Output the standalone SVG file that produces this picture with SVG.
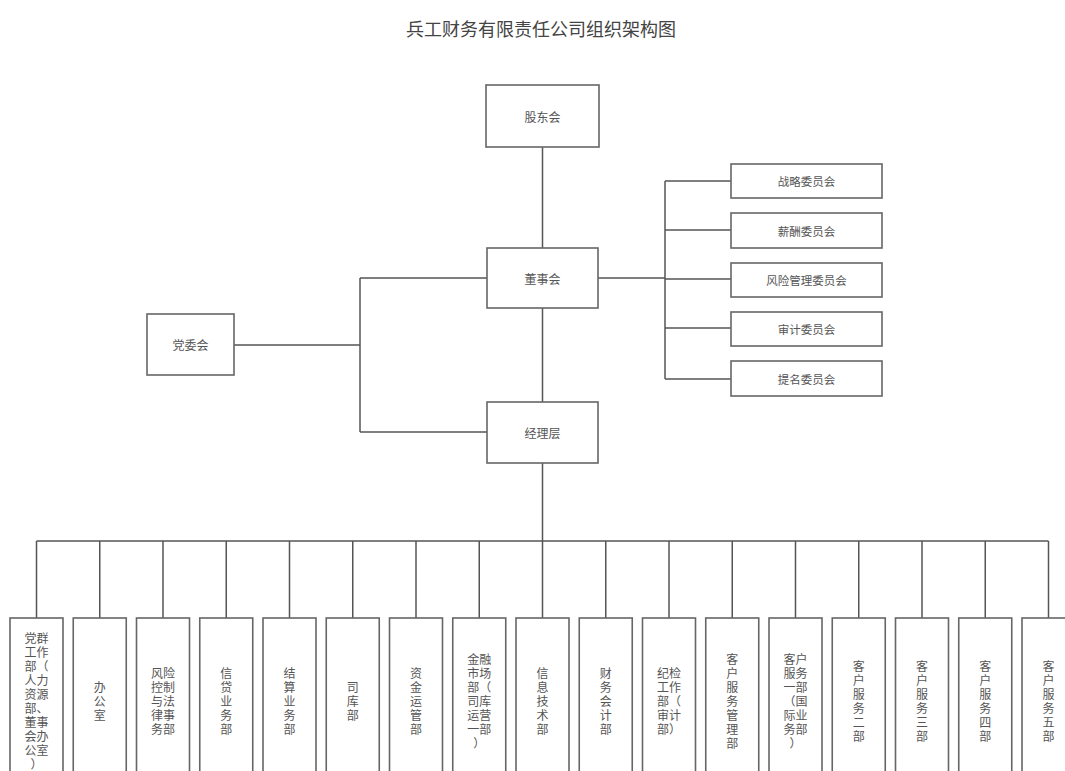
<svg xmlns="http://www.w3.org/2000/svg" width="1065" height="771" viewBox="0 0 1065 771">
<style>
text{font-family:"Noto Sans CJK SC","Noto Sans",sans-serif;fill:#555;text-anchor:middle;dominant-baseline:central}
.title{font-size:18px;fill:#444}
.n rect{fill:#fff;stroke:#666;stroke-width:1.6}
.n text{font-size:12px}
.c text{font-size:11.5px}
.b text{font-size:12px}
#connectors path{fill:none;stroke:#555;stroke-width:1.5}
</style>
<rect width="1065" height="771" fill="#fff"/>
<text class="title" x="541" y="28">兵工财务有限责任公司组织架构图</text>
<g id="connectors">
<path d="M542.5 147V248M542.5 308V402M542.5 463V541"/>
<path d="M598 278H665M665 181V379M665 181H731M665 230H731M665 279H731M665 328H731M665 379H731"/>
<path d="M234 345H360M360 278V432M360 278H487M360 432H487"/>
<path d="M36.5 541H1048.5"/>
<path d="M36.5 541V618M99.75 541V618M163 541V618M226.25 541V618M289.5 541V618M352.75 541V618M416 541V618M479.25 541V618M542.5 541V618M605.75 541V618M669 541V618M732.25 541V618M795.5 541V618M858.75 541V618M922 541V618M985.25 541V618M1048.5 541V618"/>
</g>
<g id="gudonghui" class="n"><rect x="486" y="85" width="113" height="62"/><text x="542.5" y="116">股东会</text></g>
<g id="dongshihui" class="n"><rect x="487" y="248" width="111" height="60"/><text x="542.5" y="278">董事会</text></g>
<g id="jinglieceng" class="n"><rect x="487" y="402" width="111" height="61"/><text x="542.5" y="432.5">经理层</text></g>
<g id="dangweihui" class="n"><rect x="147" y="314" width="87" height="61"/><text x="190.5" y="344.5">党委会</text></g>
<g id="zhanlue" class="n c"><rect x="731" y="164" width="151" height="34"/><text x="806.5" y="181">战略委员会</text></g>
<g id="xinchou" class="n c"><rect x="731" y="213" width="151" height="35"/><text x="806.5" y="230.5">薪酬委员会</text></g>
<g id="fengxian" class="n c"><rect x="731" y="263" width="151" height="34"/><text x="806.5" y="280">风险管理委员会</text></g>
<g id="shenji" class="n c"><rect x="731" y="312" width="151" height="34"/><text x="806.5" y="329">审计委员会</text></g>
<g id="timing" class="n c"><rect x="731" y="361" width="151" height="35"/><text x="806.5" y="378.5">提名委员会</text></g>
<g id="d1" class="n b"><rect x="10" y="618" width="53" height="170"/><text x="36.5" y="637"><tspan x="36.5" y="637">党群</tspan><tspan x="36.5" y="651">工作</tspan><tspan x="36.5" y="665">部（</tspan><tspan x="36.5" y="679">人力</tspan><tspan x="36.5" y="693">资源</tspan><tspan x="36.5" y="707">部、</tspan><tspan x="36.5" y="721">董事</tspan><tspan x="36.5" y="735">会办</tspan><tspan x="36.5" y="749">公室</tspan><tspan x="36.5" y="763">）</tspan></text></g>
<g id="d2" class="n b"><rect x="73.25" y="618" width="53" height="170"/><text><tspan x="99.75" y="686">办</tspan><tspan x="99.75" y="700">公</tspan><tspan x="99.75" y="714">室</tspan></text></g>
<g id="d3" class="n b"><rect x="136.5" y="618" width="53" height="170"/><text><tspan x="163" y="672">风险</tspan><tspan x="163" y="686">控制</tspan><tspan x="163" y="700">与法</tspan><tspan x="163" y="714">律事</tspan><tspan x="163" y="728">务部</tspan></text></g>
<g id="d4" class="n b"><rect x="199.75" y="618" width="53" height="170"/><text><tspan x="226.25" y="672">信</tspan><tspan x="226.25" y="686">贷</tspan><tspan x="226.25" y="700">业</tspan><tspan x="226.25" y="714">务</tspan><tspan x="226.25" y="728">部</tspan></text></g>
<g id="d5" class="n b"><rect x="263" y="618" width="53" height="170"/><text><tspan x="289.5" y="672">结</tspan><tspan x="289.5" y="686">算</tspan><tspan x="289.5" y="700">业</tspan><tspan x="289.5" y="714">务</tspan><tspan x="289.5" y="728">部</tspan></text></g>
<g id="d6" class="n b"><rect x="326.25" y="618" width="53" height="170"/><text><tspan x="352.75" y="686">司</tspan><tspan x="352.75" y="700">库</tspan><tspan x="352.75" y="714">部</tspan></text></g>
<g id="d7" class="n b"><rect x="389.5" y="618" width="53" height="170"/><text><tspan x="416" y="672">资</tspan><tspan x="416" y="686">金</tspan><tspan x="416" y="700">运</tspan><tspan x="416" y="714">管</tspan><tspan x="416" y="728">部</tspan></text></g>
<g id="d8" class="n b"><rect x="452.75" y="618" width="53" height="170"/><text><tspan x="479.25" y="658">金融</tspan><tspan x="479.25" y="672">市场</tspan><tspan x="479.25" y="686">部（</tspan><tspan x="479.25" y="700">司库</tspan><tspan x="479.25" y="714">运营</tspan><tspan x="479.25" y="728">一部</tspan><tspan x="479.25" y="742">）</tspan></text></g>
<g id="d9" class="n b"><rect x="516" y="618" width="53" height="170"/><text><tspan x="542.5" y="672">信</tspan><tspan x="542.5" y="686">息</tspan><tspan x="542.5" y="700">技</tspan><tspan x="542.5" y="714">术</tspan><tspan x="542.5" y="728">部</tspan></text></g>
<g id="d10" class="n b"><rect x="579.25" y="618" width="53" height="170"/><text><tspan x="605.75" y="672">财</tspan><tspan x="605.75" y="686">务</tspan><tspan x="605.75" y="700">会</tspan><tspan x="605.75" y="714">计</tspan><tspan x="605.75" y="728">部</tspan></text></g>
<g id="d11" class="n b"><rect x="642.5" y="618" width="53" height="170"/><text><tspan x="669" y="672">纪检</tspan><tspan x="669" y="686">工作</tspan><tspan x="669" y="700">部（</tspan><tspan x="669" y="714">审计</tspan><tspan x="669" y="728">部）</tspan></text></g>
<g id="d12" class="n b"><rect x="705.75" y="618" width="53" height="170"/><text><tspan x="732.25" y="658">客</tspan><tspan x="732.25" y="672">户</tspan><tspan x="732.25" y="686">服</tspan><tspan x="732.25" y="700">务</tspan><tspan x="732.25" y="714">管</tspan><tspan x="732.25" y="728">理</tspan><tspan x="732.25" y="742">部</tspan></text></g>
<g id="d13" class="n b"><rect x="769" y="618" width="53" height="170"/><text><tspan x="795.5" y="658">客户</tspan><tspan x="795.5" y="672">服务</tspan><tspan x="795.5" y="686">一部</tspan><tspan x="795.5" y="700">（国</tspan><tspan x="795.5" y="714">际业</tspan><tspan x="795.5" y="728">务部</tspan><tspan x="795.5" y="742">）</tspan></text></g>
<g id="d14" class="n b"><rect x="832.25" y="618" width="53" height="170"/><text><tspan x="858.75" y="665">客</tspan><tspan x="858.75" y="679">户</tspan><tspan x="858.75" y="693">服</tspan><tspan x="858.75" y="707">务</tspan><tspan x="858.75" y="721">二</tspan><tspan x="858.75" y="735">部</tspan></text></g>
<g id="d15" class="n b"><rect x="895.5" y="618" width="53" height="170"/><text><tspan x="922" y="665">客</tspan><tspan x="922" y="679">户</tspan><tspan x="922" y="693">服</tspan><tspan x="922" y="707">务</tspan><tspan x="922" y="721">三</tspan><tspan x="922" y="735">部</tspan></text></g>
<g id="d16" class="n b"><rect x="958.75" y="618" width="53" height="170"/><text><tspan x="985.25" y="665">客</tspan><tspan x="985.25" y="679">户</tspan><tspan x="985.25" y="693">服</tspan><tspan x="985.25" y="707">务</tspan><tspan x="985.25" y="721">四</tspan><tspan x="985.25" y="735">部</tspan></text></g>
<g id="d17" class="n b"><rect x="1022" y="618" width="53" height="170"/><text><tspan x="1048.5" y="665">客</tspan><tspan x="1048.5" y="679">户</tspan><tspan x="1048.5" y="693">服</tspan><tspan x="1048.5" y="707">务</tspan><tspan x="1048.5" y="721">五</tspan><tspan x="1048.5" y="735">部</tspan></text></g>
</svg>
